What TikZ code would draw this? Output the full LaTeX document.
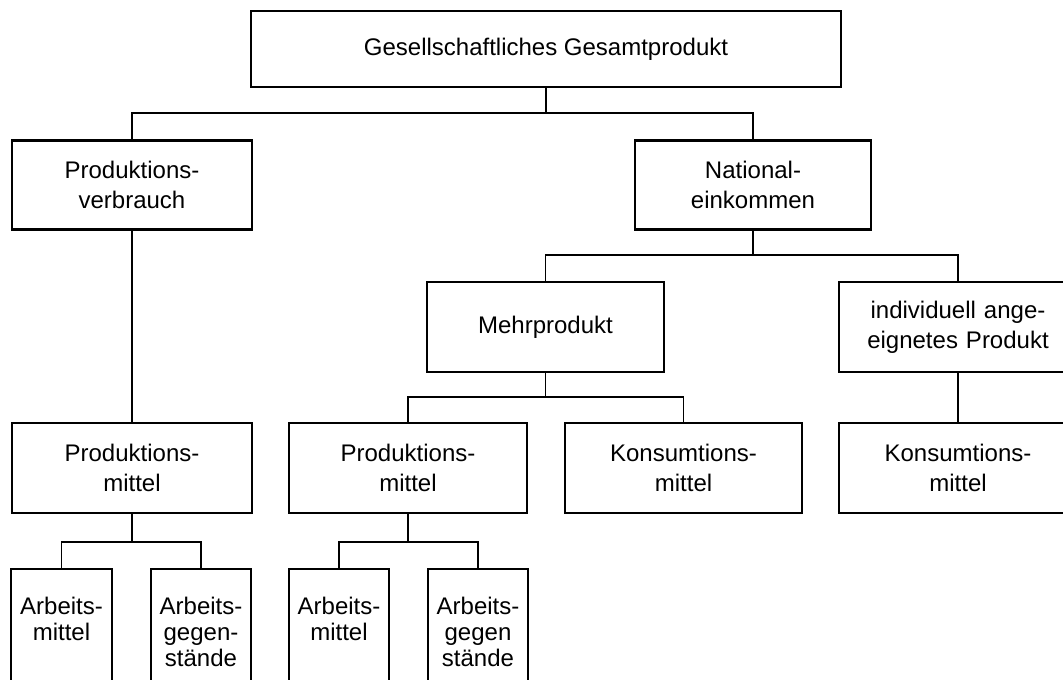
\documentclass[tikz,border=0pt]{standalone}
\usepackage{fontspec}
\setmainfont{Liberation Sans}
\begin{document}
\begin{tikzpicture}[x=1pt,y=-1pt,
  box/.style={draw, line width=2.2pt, inner sep=0pt, align=center,
    font=\fontsize{24}{30}\selectfont},
  tall/.style={draw, line width=2.2pt, inner sep=0pt, minimum height=160pt},
  txt/.style={anchor=north, inner sep=0pt, align=center,
    font=\fontsize{24}{26}\selectfont},
  conn/.style={line width=1.4pt}]
\useasboundingbox (0,0) rectangle (1063,680);
\clip (0,0) rectangle (1063,680);
% level 0
\node[box, minimum width=590pt, minimum height=76pt] (top) at (546,49) {Gesellschaftliches Gesamtprodukt};
% level 1
\node[box, minimum width=240pt, minimum height=89pt] (pv) at (132,185) {Produktions-\\verbrauch};
\node[box, minimum width=236pt, minimum height=89pt] (ne) at (753,185) {National-\\einkommen};
% level 2
\node[box, minimum width=237pt, minimum height=90pt] (mp) at (545.5,327) {Mehrprodukt};
\node[box, minimum width=238pt, minimum height=90pt, text width=238pt] (ind) at (958,327) {individuell ange-\\eignetes Produkt};
% level 3
\node[box, minimum width=240pt, minimum height=90pt] (pm1) at (132,468) {Produktions-\\mittel};
\node[box, minimum width=238pt, minimum height=90pt] (pm2) at (408,468) {Produktions-\\mittel};
\node[box, minimum width=237pt, minimum height=90pt] (km1) at (683.5,468) {Konsumtions-\\mittel};
\node[box, minimum width=238pt, minimum height=90pt, text width=238pt] (km2) at (958,468) {Konsumtions-\\mittel};
% level 4 (boxes run past the lower edge)
\node[tall, minimum width=101pt, anchor=north] (am1) at (61.5,568) {};
\node[tall, minimum width=100pt, anchor=north] (ag1) at (201,568) {};
\node[tall, minimum width=100pt, anchor=north] (am2) at (339,568) {};
\node[tall, minimum width=100pt, anchor=north] (ag2) at (478,568) {};
\node[txt] (am1t) at ([yshift=-29pt]am1.north) {Arbeits-\\mittel};
\node[txt] (ag1t) at ([yshift=-29pt]ag1.north) {Arbeits-\\gegen-\\stände};
\node[txt] (am2t) at ([yshift=-29pt]am2.north) {Arbeits-\\mittel};
\node[txt] (ag2t) at ([yshift=-29pt]ag2.north) {Arbeits-\\gegen\\stände};
% connectors
\coordinate (j1) at (546,113);
\coordinate (j2) at (753,255);
\coordinate (j3) at (545.5,397);
\coordinate (j4) at (132,542);
\coordinate (j5) at (408,542);
\draw[conn] (top.south) -- (j1);
\draw[conn] (pv.north) |- (j1) -| (ne.north);
\draw[conn] (ne.south) -- (j2);
\draw[conn] (mp.north) |- (j2) -| (ind.north);
\draw[conn] (pv.south) -- (pm1.north);
\draw[conn] (mp.south) -- (j3);
\draw[conn] (pm2.north) |- (j3) -| (km1.north);
\draw[conn] (ind.south) -- (km2.north);
\draw[conn] (pm1.south) -- (j4);
\draw[conn] (am1.north) |- (j4) -| (ag1.north);
\draw[conn] (pm2.south) -- (j5);
\draw[conn] (am2.north) |- (j5) -| (ag2.north);
\end{tikzpicture}
\end{document}
